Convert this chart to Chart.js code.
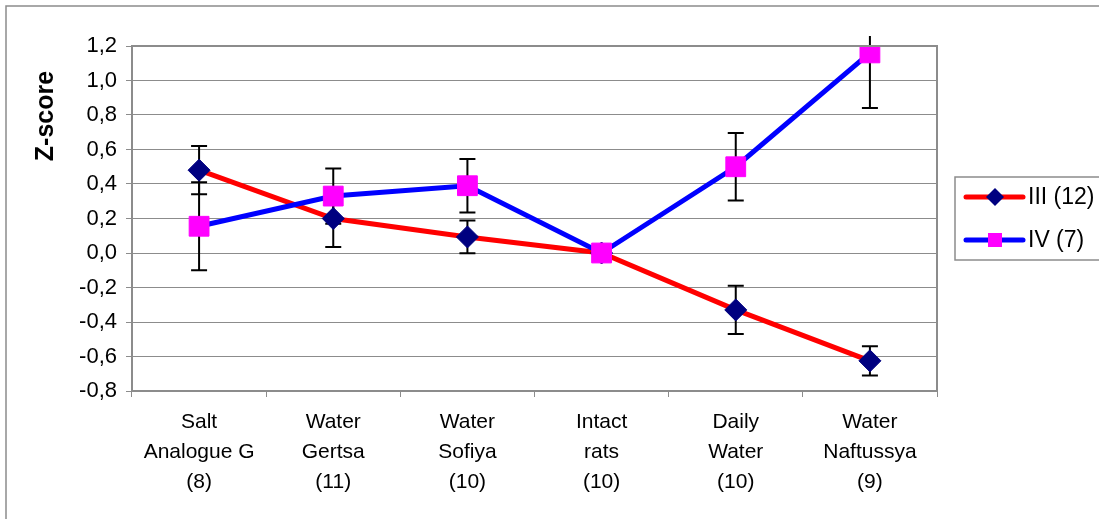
<!DOCTYPE html>
<html>
<head>
<meta charset="utf-8">
<script src="https://cdn.jsdelivr.net/npm/chart.js@4"></script>
<style>
  body { margin: 0; background: #fff; }
  #wrap { width: 1099px; height: 519px; }
</style>
</head>
<body>
<div id="wrap"><canvas id="grafica" width="1099" height="519"></canvas></div>
<script>
// Datos
const categorias = [
  ['Salt', 'Analogue G', '(8)'],
  ['Water', 'Gertsa', '(11)'],
  ['Water', 'Sofiya', '(10)'],
  ['Intact', 'rats', '(10)'],
  ['Daily', 'Water', '(10)'],
  ['Water', 'Naftussya', '(9)']
];
const nombreIII = 'III (12)';
const nombreIV = 'IV (7)';
const valoresIII = [0.48, 0.20, 0.093, 0, -0.33, -0.625];
const erroresIII = [0.14, 0.165, 0.095, 0, 0.14, 0.085];
const valoresIV = [0.155, 0.33, 0.39, 0, 0.50, 1.16];
const erroresIV = [0.255, 0.16, 0.155, 0, 0.195, 0.32];
const ejeMin = -0.8;
const ejeMax = 1.2;
const ejePaso = 0.2;

const FUENTE = "'Liberation Sans', Arial, sans-serif";

// Barras de error (se dibujan debajo de las líneas y marcadores)
const pluginErrores = {
  id: 'errores',
  beforeDatasetsDraw(chart) {
    const ctx = chart.ctx;
    const area = chart.chartArea;
    const yScale = chart.scales.y;
    ctx.save();
    ctx.beginPath();
    ctx.rect(area.left, area.top - 10, area.right - area.left, area.bottom - area.top + 10);
    ctx.clip();
    ctx.strokeStyle = '#000';
    ctx.lineWidth = 2;
    chart.data.datasets.forEach((ds, i) => {
      const meta = chart.getDatasetMeta(i);
      ds.errores.forEach((err, j) => {
        if (!err) return;
        const x = meta.data[j].x;
        const yArriba = yScale.getPixelForValue(ds.data[j] + err);
        const yAbajo = yScale.getPixelForValue(ds.data[j] - err);
        ctx.beginPath();
        ctx.moveTo(x, yArriba); ctx.lineTo(x, yAbajo);
        ctx.moveTo(x - 8, yArriba); ctx.lineTo(x + 8, yArriba);
        ctx.moveTo(x - 8, yAbajo); ctx.lineTo(x + 8, yAbajo);
        ctx.stroke();
      });
    });
    ctx.restore();
  }
};

// Marco exterior, borde del área, título del eje y leyenda
const pluginMarco = {
  id: 'marco',
  beforeDraw(chart) {
    const ctx = chart.ctx;
    ctx.save();
    ctx.fillStyle = '#fff';
    ctx.fillRect(0, 0, chart.width, chart.height);
    ctx.strokeStyle = '#8c8c8c';
    ctx.lineWidth = 1.5;
    ctx.strokeRect(6, 6, chart.width + 20, chart.height + 20);
    ctx.restore();
  },
  afterDraw(chart) {
    const ctx = chart.ctx;
    const a = chart.chartArea;
    ctx.save();
    ctx.strokeStyle = '#8c8c8c';
    ctx.lineWidth = 2;
    ctx.beginPath();
    ctx.moveTo(a.left, a.top); ctx.lineTo(a.right, a.top); ctx.lineTo(a.right, a.bottom);
    ctx.stroke();

    // Título del eje Y
    ctx.fillStyle = '#000';
    ctx.font = 'bold 25px ' + FUENTE;
    ctx.textAlign = 'center';
    ctx.textBaseline = 'middle';
    ctx.translate(46, 116);
    ctx.rotate(-Math.PI / 2);
    ctx.fillText('Z-score', 0, 0);
    ctx.restore();

    // Leyenda
    ctx.save();
    ctx.strokeStyle = '#8c8c8c';
    ctx.lineWidth = 1.5;
    ctx.strokeRect(955, 177, 200, 83);
    ctx.font = '23px ' + FUENTE;
    ctx.textBaseline = 'middle';
    ctx.fillStyle = '#000';
    const filas = [197, 240];
    chart.data.datasets.forEach((ds, i) => {
      const y = filas[i];
      ctx.strokeStyle = ds.borderColor;
      ctx.lineWidth = 5;
      ctx.lineCap = 'round';
      ctx.beginPath();
      ctx.moveTo(966, y); ctx.lineTo(1023, y);
      ctx.stroke();
      ctx.fillStyle = ds.pointBackgroundColor;
      ctx.beginPath();
      if (ds.pointStyle === 'rectRot') {
        ctx.moveTo(995, y - 9); ctx.lineTo(1004, y); ctx.lineTo(995, y + 9); ctx.lineTo(986, y);
      } else {
        ctx.rect(988, y - 7, 14, 14);
      }
      ctx.fill();
      ctx.fillStyle = '#000';
      ctx.fillText(ds.label, 1028, y + 1);
    });
    ctx.restore();
  }
};

const ctx = document.getElementById('grafica').getContext('2d');
new Chart(ctx, {
  type: 'line',
  data: {
    labels: categorias,
    datasets: [
      {
        label: nombreIII,
        data: valoresIII,
        errores: erroresIII,
        borderColor: '#ff0000',
        borderWidth: 5,
        pointStyle: 'rectRot',
        pointRadius: 11,
        pointHoverRadius: 11,
        pointBackgroundColor: '#000080',
        pointBorderColor: '#000080',
        pointBorderWidth: 1,
        tension: 0,
        order: 2
      },
      {
        label: nombreIV,
        data: valoresIV,
        errores: erroresIV,
        borderColor: '#0000ff',
        borderWidth: 5,
        pointStyle: 'rect',
        pointRadius: 14,
        pointHoverRadius: 14,
        pointBackgroundColor: '#ff00ff',
        pointBorderColor: '#ff00ff',
        pointBorderWidth: 1,
        tension: 0,
        order: 1
      }
    ]
  },
  options: {
    responsive: false,
    animation: false,
    layout: { padding: { left: 0, top: 46, right: 162, bottom: 0 } },
    plugins: {
      legend: { display: false },
      tooltip: { enabled: false }
    },
    scales: {
      x: {
        offset: true,
        grid: {
          offset: true,
          drawOnChartArea: false,
          drawTicks: true,
          tickLength: 6,
          tickColor: '#8c8c8c'
        },
        border: { color: '#8c8c8c', width: 2 },
        ticks: {
          color: '#000',
          padding: 10,
          maxRotation: 0,
          autoSkip: false,
          font: { family: FUENTE, size: 21, lineHeight: 1.43 }
        },
        afterFit(scale) { scale.height = 128; }
      },
      y: {
        min: ejeMin,
        max: ejeMax,
        grid: {
          color: '#8c8c8c',
          lineWidth: 1,
          drawTicks: true,
          tickLength: 6,
          tickColor: '#8c8c8c'
        },
        border: { color: '#8c8c8c', width: 2 },
        ticks: {
          stepSize: ejePaso,
          color: '#000',
          padding: 9,
          font: { family: FUENTE, size: 22 },
          callback: v => v.toFixed(1).replace('.', ',')
        },
        afterFit(scale) { scale.width = 132; }
      }
    }
  },
  plugins: [pluginErrores, pluginMarco]
});
</script>
</body>
</html>
